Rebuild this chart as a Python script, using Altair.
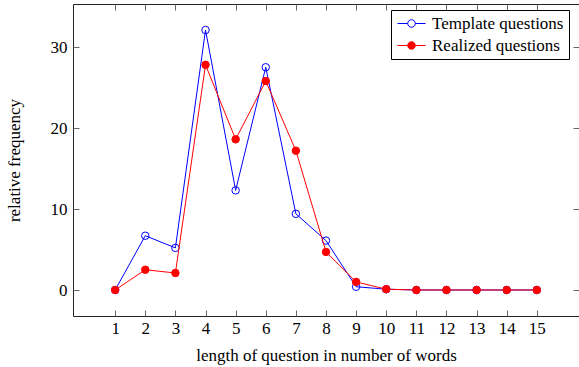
import altair as alt
import pandas as pd

words = list(range(1, 16))
template = [0, 6.7, 5.2, 32.1, 12.3, 27.5, 9.4, 6.1, 0.4, 0.1, 0, 0, 0, 0, 0]
realized = [0, 2.5, 2.1, 27.8, 18.6, 25.8, 17.2, 4.7, 1.0, 0.1, 0, 0, 0, 0, 0]
series_names = ["Template questions", "Realized questions"]
x_ticks = list(range(1, 16))
y_ticks = [0, 10, 20, 30]

rows = []
for s, vals in zip(series_names, [template, realized]):
    for w, v in zip(words, vals):
        rows.append({"words": w, "freq": v, "series": s})
df = pd.DataFrame(rows)

FONT = "Liberation Serif"
FS = 17

xscale = alt.Scale(domain=[-0.4, 16.4], nice=False, zero=False)
yscale = alt.Scale(domain=[-3.21, 35.31], nice=False, zero=False)

stroke_scale = alt.Scale(domain=series_names, range=["#0000ff", "#ff0000"])
fill_scale = alt.Scale(domain=series_names, range=["transparent", "#ff0000"])

legend_path = ("M-2,0L-0.54,0M0.54,0L2,0M-0.54,0A0.54,0.54,0,1,0,0.54,0"
               "A0.54,0.54,0,1,0,-0.54,0Z")

common_axis = dict(labelFont=FONT, labelFontSize=FS, labelColor="black",
                   titleFont=FONT, titleFontSize=FS, titleColor="black",
                   titleFontWeight="normal", tickColor="#666", tickWidth=1,
                   tickSize=6, offset=-6, domain=False, grid=False)

x_bottom = alt.Axis(orient="bottom", values=x_ticks, labelPadding=4,
                    title="length of question in number of words", titlePadding=11,
                    **common_axis)
x_top = alt.Axis(orient="top", values=x_ticks, labels=False, title=None,
                 **common_axis)
y_left = alt.Axis(orient="left", values=y_ticks, labelPadding=6,
                  title="relative frequency", titlePadding=27, **common_axis)
y_right = alt.Axis(orient="right", values=y_ticks, labels=False, title=None,
                   **common_axis)

legend = alt.Legend(title=None, orient="none", legendX=318, legendY=6,
                    symbolType=legend_path, symbolSize=196, symbolStrokeWidth=1,
                    symbolOffset=7,
                    labelFont=FONT, labelFontSize=FS, labelColor="black",
                    strokeColor="black", fillColor="white", padding=5,
                    rowPadding=4, labelOffset=12, cornerRadius=0)


def layer_for(name, xaxis, yaxis, with_legend):
    base = alt.Chart(df).transform_filter(alt.datum.series == name)
    line = base.mark_line(strokeWidth=1).encode(
        x=alt.X("words:Q", scale=xscale, axis=xaxis),
        y=alt.Y("freq:Q", scale=yscale, axis=yaxis),
        stroke=alt.Stroke("series:N", scale=stroke_scale,
                          legend=legend if with_legend else None),
    )
    pts = base.mark_point(shape="circle", filled=True, size=56, strokeWidth=1,
                          opacity=1).encode(
        x=alt.X("words:Q", scale=xscale, axis=None),
        y=alt.Y("freq:Q", scale=yscale, axis=None),
        stroke=alt.Stroke("series:N", scale=stroke_scale,
                          legend=legend if with_legend else None),
        fill=alt.Fill("series:N", scale=fill_scale,
                      legend=legend if with_legend else None),
    )
    return [line, pts]


layers = (layer_for("Template questions", x_bottom, y_left, True)
          + layer_for("Realized questions", x_top, y_right, False))

chart = alt.layer(*layers).resolve_axis(
    x="independent", y="independent"
).properties(
    width=506, height=312,
    autosize=alt.AutoSizeParams(type="none"),
    padding={"left": 73, "top": 4, "right": 0, "bottom": 51},
).configure_view(stroke="#222", strokeWidth=1)

chart.save("out.html", embed_options={"renderer": "svg", "actions": False})
